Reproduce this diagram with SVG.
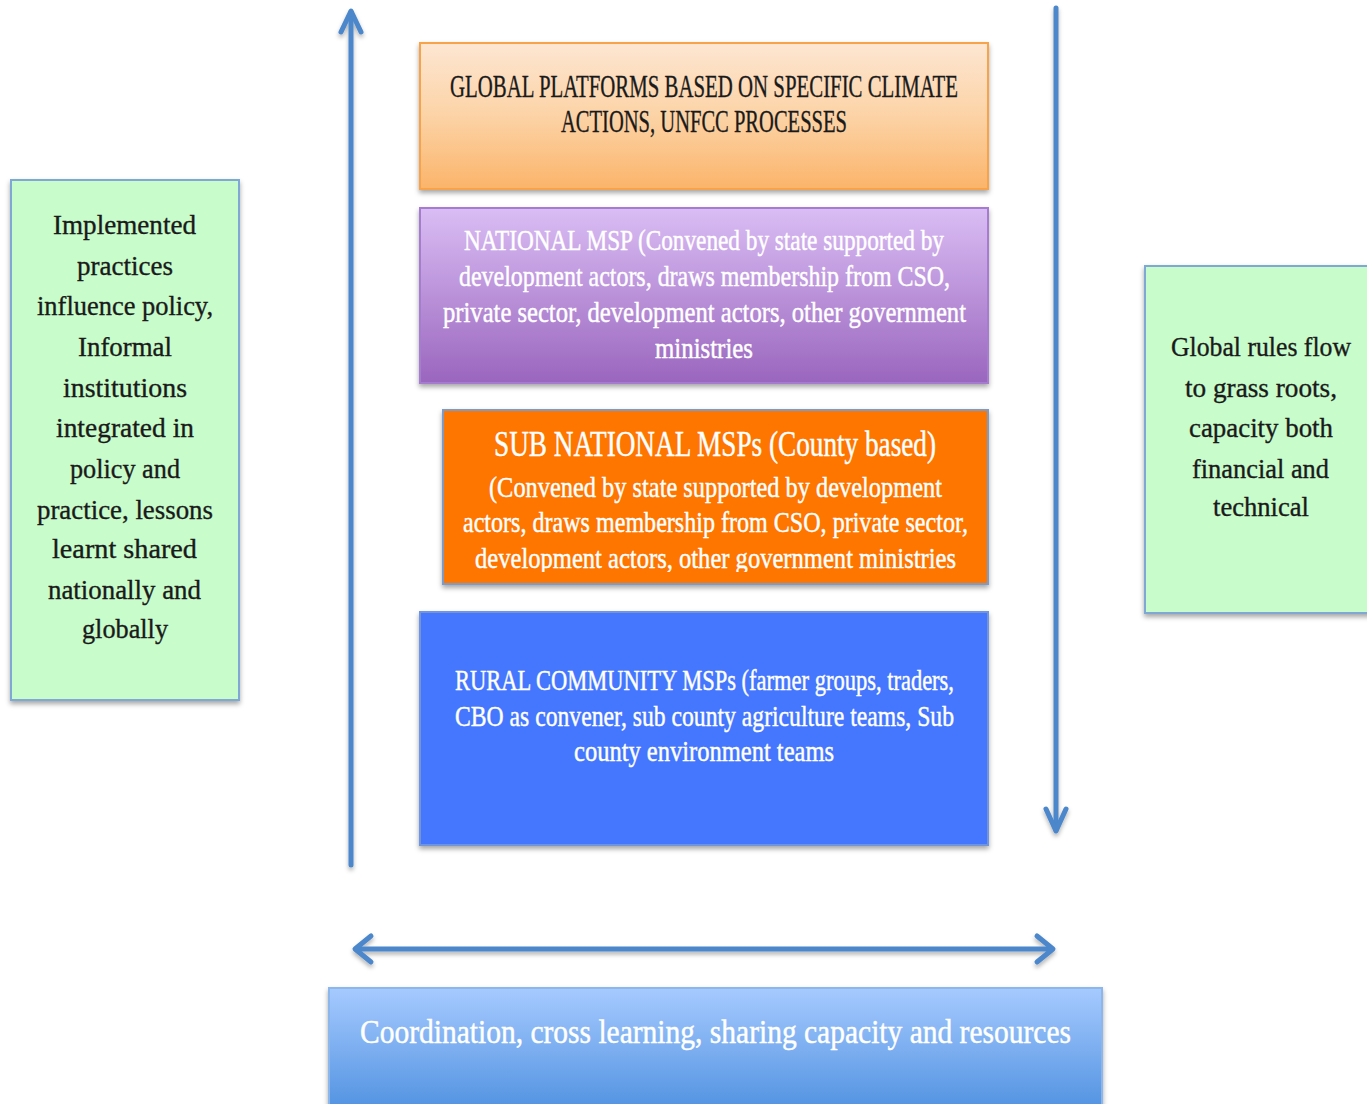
<svg xmlns="http://www.w3.org/2000/svg" width="1367" height="1104" viewBox="0 0 1367 1104">
<style>
text{font-family:"Liberation Serif","DejaVu Serif",serif;text-anchor:start}
.dark{fill:#1a1a1a;stroke:#1a1a1a;stroke-width:0.35}
.light{fill:#ffffff;stroke:#ffffff;stroke-width:0.45}
.conn{fill:none;stroke:#4b87ca;stroke-width:5;stroke-linecap:round}
.head{fill:none;stroke:#4b87ca;stroke-width:5;stroke-linecap:round;stroke-linejoin:round}
.box{filter:url(#sh)}
</style>
<defs>
<filter id="sh" x="-10%" y="-10%" width="120%" height="125%">
<feDropShadow dx="0" dy="3" stdDeviation="2.5" flood-color="#000" flood-opacity="0.35"/>
</filter>
<filter id="ash" x="-10%" y="-10%" width="120%" height="130%">
<feDropShadow dx="0" dy="3" stdDeviation="2" flood-color="#000" flood-opacity="0.3"/>
</filter>
<linearGradient id="gOr" x1="0" y1="0" x2="0" y2="1">
<stop offset="0" stop-color="#fde6d2"/>
<stop offset="0.5" stop-color="#fcd3a6"/>
<stop offset="1" stop-color="#fbb46a"/>
</linearGradient>
<linearGradient id="gPu" x1="0" y1="0" x2="0" y2="1">
<stop offset="0" stop-color="#dabdf4"/>
<stop offset="1" stop-color="#9a66be"/>
</linearGradient>
<linearGradient id="gBl" x1="0" y1="0" x2="0" y2="1">
<stop offset="0" stop-color="#a6caff"/>
<stop offset="1" stop-color="#4c8fdf"/>
</linearGradient>
<clipPath id="subClip"><rect x="443" y="410" width="545" height="162"/></clipPath>
</defs>

<g id="connectors" filter="url(#ash)">
<line class="conn" x1="351" y1="865" x2="351" y2="12"/>
<polyline class="head" points="341,32 351,11 361,32"/>
<line class="conn" x1="1056" y1="8" x2="1056" y2="830"/>
<polyline class="head" points="1046,809 1056,831 1066,809"/>
<line class="conn" x1="357" y1="949" x2="1051" y2="949"/>
<polyline class="head" points="371,936 355,949 371,962"/>
<polyline class="head" points="1037,936 1053,949 1037,962"/>
</g>

<g id="node-left">
<rect class="box" x="11" y="180" width="228" height="520" fill="#c8fccb" stroke="#80a8d4" stroke-width="2"/>
<text class="dark" font-size="28">
<tspan x="53" y="234" textLength="143" lengthAdjust="spacingAndGlyphs">Implemented</tspan>
<tspan x="77" y="275" textLength="96" lengthAdjust="spacingAndGlyphs">practices</tspan>
<tspan x="37" y="315" textLength="176" lengthAdjust="spacingAndGlyphs">influence policy,</tspan>
<tspan x="78" y="356" textLength="94" lengthAdjust="spacingAndGlyphs">Informal</tspan>
<tspan x="63" y="397" textLength="124" lengthAdjust="spacingAndGlyphs">institutions</tspan>
<tspan x="56" y="437" textLength="138" lengthAdjust="spacingAndGlyphs">integrated in</tspan>
<tspan x="70" y="478" textLength="110" lengthAdjust="spacingAndGlyphs">policy and</tspan>
<tspan x="37" y="519" textLength="176" lengthAdjust="spacingAndGlyphs">practice, lessons</tspan>
<tspan x="52" y="558" textLength="145" lengthAdjust="spacingAndGlyphs">learnt shared</tspan>
<tspan x="48" y="599" textLength="153" lengthAdjust="spacingAndGlyphs">nationally and</tspan>
<tspan x="82" y="638" textLength="86" lengthAdjust="spacingAndGlyphs">globally</tspan>
</text>
</g>

<g id="node-right">
<rect class="box" x="1145" y="266" width="230" height="347" fill="#c8fccb" stroke="#80a8d4" stroke-width="2"/>
<text class="dark" font-size="28">
<tspan x="1171" y="356" textLength="180" lengthAdjust="spacingAndGlyphs">Global rules flow</tspan>
<tspan x="1185" y="397" textLength="152" lengthAdjust="spacingAndGlyphs">to grass roots,</tspan>
<tspan x="1189" y="437" textLength="144" lengthAdjust="spacingAndGlyphs">capacity both</tspan>
<tspan x="1192" y="478" textLength="137" lengthAdjust="spacingAndGlyphs">financial and</tspan>
<tspan x="1213" y="516" textLength="96" lengthAdjust="spacingAndGlyphs">technical</tspan>
</text>
</g>

<g id="node-global">
<rect class="box" x="420" y="43" width="568" height="146" fill="url(#gOr)" stroke="#f8a24a" stroke-width="2"/>
<text class="dark" font-size="31">
<tspan x="450" y="97" textLength="508" lengthAdjust="spacingAndGlyphs">GLOBAL PLATFORMS BASED ON SPECIFIC CLIMATE</tspan>
<tspan x="561" y="132" textLength="286" lengthAdjust="spacingAndGlyphs">ACTIONS, UNFCC PROCESSES</tspan>
</text>
</g>

<g id="node-national">
<rect class="box" x="420" y="208" width="568" height="175" fill="url(#gPu)" stroke="#a57ccf" stroke-width="2"/>
<text class="light" font-size="30">
<tspan x="464" y="250" textLength="480" lengthAdjust="spacingAndGlyphs">NATIONAL MSP (Convened by state supported by</tspan>
<tspan x="459" y="286" textLength="491" lengthAdjust="spacingAndGlyphs">development actors, draws membership from CSO,</tspan>
<tspan x="443" y="322" textLength="523" lengthAdjust="spacingAndGlyphs">private sector, development actors, other government</tspan>
<tspan x="655" y="358" textLength="98" lengthAdjust="spacingAndGlyphs">ministries</tspan>
</text>
</g>

<g id="node-subnational">
<rect class="box" x="443" y="410" width="545" height="174" fill="#fe7400" stroke="#7d9bc6" stroke-width="2"/>
<g clip-path="url(#subClip)">
<text class="light" font-size="35">
<tspan x="494" y="456" textLength="442" lengthAdjust="spacingAndGlyphs">SUB NATIONAL MSPs (County based)</tspan>
</text>
<text class="light" font-size="30">
<tspan x="489" y="497" textLength="453" lengthAdjust="spacingAndGlyphs">(Convened by state supported by development</tspan>
<tspan x="463" y="532" textLength="505" lengthAdjust="spacingAndGlyphs">actors, draws membership from CSO, private sector,</tspan>
<tspan x="475" y="568" textLength="481" lengthAdjust="spacingAndGlyphs">development actors, other government ministries</tspan>
</text>
</g>
</g>

<g id="node-rural">
<rect class="box" x="420" y="612" width="568" height="233" fill="#4477fe" stroke="#6f95dc" stroke-width="2"/>
<text class="light" font-size="30">
<tspan x="455" y="690" textLength="499" lengthAdjust="spacingAndGlyphs">RURAL COMMUNITY MSPs (farmer groups, traders,</tspan>
<tspan x="455" y="726" textLength="499" lengthAdjust="spacingAndGlyphs">CBO as convener, sub county agriculture teams, Sub</tspan>
<tspan x="574" y="761" textLength="260" lengthAdjust="spacingAndGlyphs">county environment teams</tspan>
</text>
</g>

<g id="node-coordination">
<rect class="box" x="329" y="988" width="773" height="130" fill="url(#gBl)" stroke="#8db6ea" stroke-width="2"/>
<text class="light" font-size="34">
<tspan x="360" y="1043" textLength="711" lengthAdjust="spacingAndGlyphs">Coordination, cross learning, sharing capacity and resources</tspan>
</text>
</g>
</svg>
